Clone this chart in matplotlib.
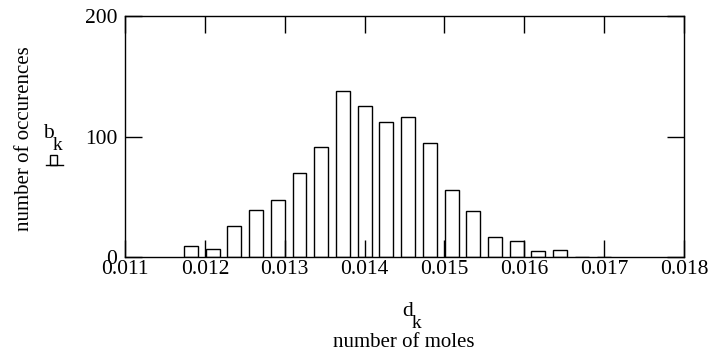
"""Histogram of number of moles (d_k) with occurrence counts (b_k)."""

import matplotlib
matplotlib.use("Agg")
import matplotlib.pyplot as plt
from matplotlib.patches import Rectangle
from matplotlib.lines import Line2D

# bin centres (number of moles) and counts
bin_centers = [0.011825, 0.012097, 0.012369, 0.012641, 0.012913, 0.013185,
               0.013457, 0.013729, 0.014001, 0.014273, 0.014545, 0.014817,
               0.015089, 0.015361, 0.015633, 0.015905, 0.016177, 0.016449,
               0.016721, 0.016993]
counts = [9, 7, 26, 39, 47, 70, 91, 138, 125, 112, 116, 95,
          56, 38, 17, 13, 5, 6, 0, 0]
x_ticks = [0.011, 0.012, 0.013, 0.014, 0.015, 0.016, 0.017, 0.018]
y_ticks = [0, 100, 200]

plt.rcParams["font.family"] = ["Liberation Serif", "DejaVu Serif"]
plt.rcParams["font.size"] = 15

W, H = 712, 352
fig = plt.figure(figsize=(W / 100, H / 100), dpi=100)
ax = fig.add_axes([125 / W, 1 - 257 / H, (684 - 125) / W, (257 - 16) / H])

ax.bar(bin_centers, counts, width=0.000175, facecolor="white",
       edgecolor="black", linewidth=1.0)

ax.set_xlim(0.011, 0.018)
ax.set_ylim(0, 200)
ax.set_xticks(x_ticks)
ax.set_xticklabels([f"{t:.3f}" for t in x_ticks])
ax.set_yticks(y_ticks)
ax.tick_params(direction="in", length=12, width=1.0, top=True, right=True,
               labelsize=15.5)
ax.tick_params(axis="x", pad=2)
ax.tick_params(axis="y", pad=5.5)
for s in ax.spines.values():
    s.set_linewidth(1.0)


def px(x, y):
    return x / W, 1 - y / H


def sub_label(x, y, base, sub, size=15.5):
    # gnuplot-like subscript: base letter, then a slightly smaller lowered one
    fig.text(*px(x, y), base, ha="left", va="baseline", fontsize=size)
    fig.text(*px(x + 9.5, y + 12), sub, ha="left", va="baseline",
             fontsize=size * 0.9)


# axis labels (gnuplot style: symbol line + description line)
fig.text(*px(25, 139), "number of occurences", rotation=90,
         ha="center", va="center", fontsize=15)
sub_label(402, 316, "d", "k")
fig.text(*px(404, 347), "number of moles", ha="center",
         va="baseline", fontsize=15)

# key: b_k with a small box sample
sub_label(43, 138, "b", "k")
fig.add_artist(Rectangle(px(50, 165), 7 / W, 10 / H,
                         transform=fig.transFigure, facecolor="white",
                         edgecolor="black", linewidth=1.0))
fig.add_artist(Line2D([46 / W, 63 / W], [1 - 165 / H, 1 - 165 / H],
                      transform=fig.transFigure, color="black",
                      linewidth=1.0))

fig.savefig("out.png", dpi=100)
